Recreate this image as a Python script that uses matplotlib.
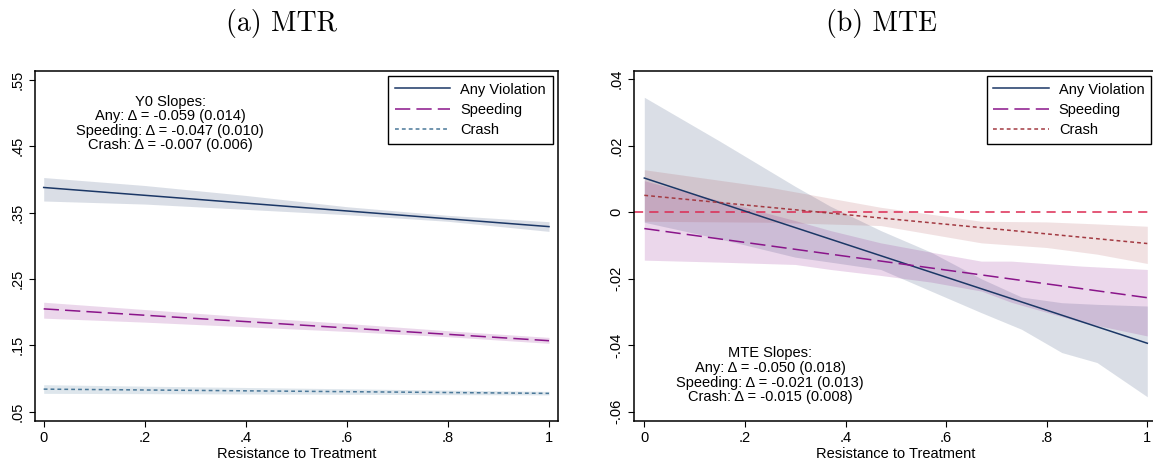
import matplotlib
matplotlib.use("Agg")
import matplotlib.pyplot as plt
from matplotlib.lines import Line2D
import matplotlib.transforms as mtransforms

# ---------------- data ----------------
u_ends = [0.0, 1.0]

# (a) MTR: Y0 lines and bands
mtr_any = [0.388, 0.329]
mtr_speed = [0.205, 0.157]
mtr_crash = [0.084, 0.0776]

mtr_band_x = [0.0, 0.2, 0.4, 0.6, 0.8, 1.0]
mtr_any_hi = [0.403, 0.391, 0.376, 0.359, 0.346, 0.3364]
mtr_any_lo = [0.3676, 0.363, 0.355, 0.347, 0.337, 0.3218]
mtr_speed_hi = [0.215, 0.204, 0.193, 0.183, 0.172, 0.162]
mtr_speed_lo = [0.191, 0.185, 0.178, 0.171, 0.163, 0.153]
mtr_crash_hi = [0.0907, 0.0885, 0.0865, 0.0845, 0.0825, 0.0806]
mtr_crash_lo = [0.0776, 0.0772, 0.0767, 0.0762, 0.0757, 0.0752]

# (b) MTE lines and bands
mte_any = [0.0103, -0.0394]
mte_speed = [-0.0049, -0.0257]
mte_crash = [0.0051, -0.0094]

mte_any_x = [0.0, 0.15, 0.30, 0.37, 0.47, 0.57, 0.67, 0.75, 0.83, 0.90, 1.0]
mte_any_hi = [0.0346, 0.0214, 0.0078, 0.0018, -0.0055, -0.0120, -0.0200,
              -0.0255, -0.0272, -0.0277, -0.0282]
mte_any_lo = [-0.0030, -0.0080, -0.0135, -0.0150, -0.0172, -0.0237, -0.0302,
              -0.0352, -0.0422, -0.0452, -0.0555]

mte_speed_x = [0.0, 0.15, 0.30, 0.37, 0.47, 0.57, 0.67, 0.73, 0.87, 1.0]
mte_speed_hi = [0.0095, 0.0035, -0.0025, -0.0055, -0.0092, -0.0120, -0.0147,
                -0.0147, -0.0162, -0.0172]
mte_speed_lo = [-0.0144, -0.0150, -0.0157, -0.0172, -0.0190, -0.0210, -0.0237,
                -0.0271, -0.0331, -0.0372]

mte_crash_x = [0.0, 0.25, 0.47, 0.67, 0.80, 0.90, 1.0]
mte_crash_hi = [0.0128, 0.0075, 0.0015, -0.0027, -0.0029, -0.0035, -0.0042]
mte_crash_lo = [-0.0027, -0.0030, -0.0040, -0.0092, -0.0106, -0.0126, -0.0154]

x_ticks = [0, 0.2, 0.4, 0.6, 0.8, 1.0]
x_ticklabels = ["0", ".2", ".4", ".6", ".8", "1"]
mtr_yticks = [0.05, 0.15, 0.25, 0.35, 0.45, 0.55]
mtr_yticklabels = [".05", ".15", ".25", ".35", ".45", ".55"]
mte_yticks = [-0.06, -0.04, -0.02, 0.0, 0.02, 0.04]
mte_yticklabels = ["-.06", "-.04", "-.02", "0", ".02", ".04"]

series_names = ["Any Violation", "Speeding", "Crash"]
mtr_notes = ["Y0 Slopes:",
             "Any: \u0394 = -0.059 (0.014)",
             "Speeding: \u0394 = -0.047 (0.010)",
             "Crash: \u0394 = -0.007 (0.006)"]
mte_notes = ["MTE Slopes:",
             "Any: \u0394 = -0.050 (0.018)",
             "Speeding: \u0394 = -0.021 (0.013)",
             "Crash: \u0394 = -0.015 (0.008)"]

# ---------------- style ----------------
plt.rcParams["font.family"] = ["Liberation Sans", "DejaVu Sans"]
FS = 10.5
NAVY = "#1b3766"
PURPLE = "#8a158a"
STEEL = "#4a7899"
MAROON = "#a33a42"
CRIMSON = "#dc2a52"
LW = 1.1

W, H = 1153, 463
fig = plt.figure(figsize=(W / 100, H / 100), dpi=100)

def px_axes(left, top, right, bottom):
    return fig.add_axes([left / W, 1 - bottom / H, (right - left) / W, (bottom - top) / H])

axL = px_axes(35, 71, 557.7, 420.7)
axR = px_axes(634, 71, 1157.6, 420.7)

def style_axes(ax, yticks, ylabels, xlim, ylim):
    ax.set_xlim(*xlim)
    ax.set_ylim(*ylim)
    ax.set_xticks(x_ticks)
    ax.set_xticklabels(x_ticklabels)
    ax.set_yticks(yticks)
    ax.set_yticklabels(ylabels, rotation=90, va="center")
    ax.tick_params(direction="out", length=4, width=0.8, labelsize=FS, pad=3.5)
    for s in ax.spines.values():
        s.set_linewidth(1.1)
        s.set_color("black")
    ax.set_xlabel("Resistance to Treatment", fontsize=FS, labelpad=1)

style_axes(axL, mtr_yticks, mtr_yticklabels, (-0.0172, 1.0172), (0.0364, 0.5636))
style_axes(axR, mte_yticks, mte_yticklabels, (-0.0205, 1.0205), (-0.0627, 0.0425))

# ---- (a) MTR ----
axL.fill_between(mtr_band_x, mtr_any_lo, mtr_any_hi, color=NAVY, alpha=0.16, lw=0)
axL.fill_between(mtr_band_x, mtr_speed_lo, mtr_speed_hi, color=PURPLE, alpha=0.17, lw=0)
axL.fill_between(mtr_band_x, mtr_crash_lo, mtr_crash_hi, color=STEEL, alpha=0.18, lw=0)
axL.plot(u_ends, mtr_any, color=NAVY, lw=LW)
axL.plot(u_ends, mtr_speed, color=PURPLE, lw=LW, dashes=(10, 4))
axL.plot(u_ends, mtr_crash, color=STEEL, lw=LW, dashes=(2.5, 2))

# ---- (b) MTE ----
axR.fill_between(mte_any_x, mte_any_lo, mte_any_hi, color=NAVY, alpha=0.16, lw=0)
axR.fill_between(mte_speed_x, mte_speed_lo, mte_speed_hi, color=PURPLE, alpha=0.17, lw=0)
axR.fill_between(mte_crash_x, mte_crash_lo, mte_crash_hi, color=MAROON, alpha=0.15, lw=0)
axR.axhline(0, color=CRIMSON, lw=LW, dashes=(6, 4))
axR.plot(u_ends, mte_any, color=NAVY, lw=LW)
axR.plot(u_ends, mte_speed, color=PURPLE, lw=LW, dashes=(10, 4))
axR.plot(u_ends, mte_crash, color=MAROON, lw=LW, dashes=(2.5, 2))

# ---- legends ----
def add_legend(ax, crash_color, anchor):
    handles = [Line2D([], [], color=NAVY, lw=LW),
               Line2D([], [], color=PURPLE, lw=LW, dashes=(10, 4)),
               Line2D([], [], color=crash_color, lw=LW, dashes=(2.5, 2))]
    leg = ax.legend(handles, series_names, loc="upper right", bbox_to_anchor=anchor,
                    borderaxespad=0, fontsize=FS, handlelength=3.8, handletextpad=0.7,
                    labelspacing=0.44, borderpad=0.45, fancybox=False, framealpha=1,
                    edgecolor="black")
    leg.get_frame().set_linewidth(1.0)
    return leg

legL = add_legend(axL, STEEL, (0.9904, 0.9857))
legR = add_legend(axR, MAROON, (0.9874, 0.9857))

# ---- slope notes ----
def add_notes(ax, lines, ys):
    tr = mtransforms.blended_transform_factory(ax.transData, ax.transAxes)
    for t, y in zip(lines, ys):
        ax.text(0.25, y, t, transform=tr, ha="center", va="center", fontsize=FS)

add_notes(axL, mtr_notes, [0.9122, 0.8713, 0.8284, 0.7884])
add_notes(axR, mte_notes, [0.1936, 0.1507, 0.1078, 0.0678])

# ---- panel titles ----
fig.text(281 / W, 1 - 23 / H, "(a) MTR", ha="center", va="center",
         fontsize=20, family="cmr10")
fig.text(881 / W, 1 - 23 / H, "(b) MTE", ha="center", va="center",
         fontsize=20, family="cmr10")

fig.savefig("out.png", dpi=100)
